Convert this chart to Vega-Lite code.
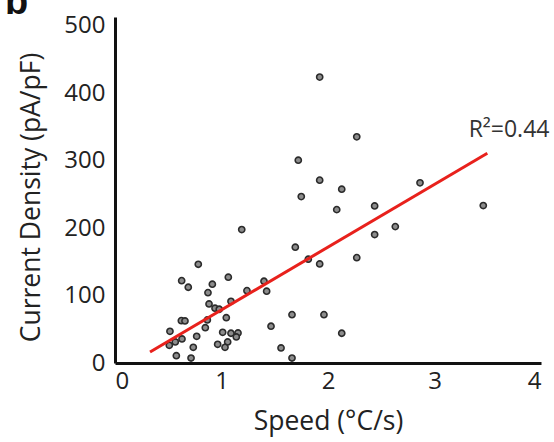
{
  "$schema": "https://vega.github.io/schema/vega-lite/v6.json",
  "autosize": "none",
  "width": 426,
  "height": 346,
  "padding": {"left": 115, "top": 17, "right": 13, "bottom": 79},
  "background": "white",
  "title": {"text": "b", "anchor": "start", "frame": "group", "fontSize": 38, "fontWeight": "bold", "font": "Liberation Sans", "color": "#111", "baseline": "alphabetic", "offset": 0, "dx": -110, "dy": 38},
  "config": {
    "view": {"stroke": null},
    "font": "Open Sans",
    "axis": {"grid": false, "ticks": false, "domainColor": "#111", "domainWidth": 3, "labelFont": "Open Sans", "labelFontSize": 24, "labelColor": "#222", "titleFont": "Open Sans", "titleFontSize": 26.5, "titleFontWeight": "normal", "titleColor": "#222"}
  },
  "datasets": {
    "pts": [
      {"speed": 0.782, "density": 146.4}, {"speed": 0.626, "density": 122.1}, {"speed": 0.688, "density": 112.3},
      {"speed": 1.064, "density": 127.2}, {"speed": 0.914, "density": 116.8}, {"speed": 0.873, "density": 104.3},
      {"speed": 1.239, "density": 107.3}, {"speed": 0.883, "density": 87.5}, {"speed": 0.939, "density": 81.2},
      {"speed": 0.979, "density": 79.7}, {"speed": 1.089, "density": 91.5}, {"speed": 0.623, "density": 62.8},
      {"speed": 0.657, "density": 62.3}, {"speed": 0.867, "density": 63.8}, {"speed": 1.045, "density": 67.2},
      {"speed": 0.516, "density": 47.0}, {"speed": 0.848, "density": 52.4}, {"speed": 1.011, "density": 45.5},
      {"speed": 1.089, "density": 44.1}, {"speed": 1.155, "density": 44.5}, {"speed": 1.139, "density": 38.6},
      {"speed": 0.629, "density": 35.6}, {"speed": 0.767, "density": 39.6}, {"speed": 0.566, "density": 31.2},
      {"speed": 0.510, "density": 26.3}, {"speed": 1.058, "density": 31.2}, {"speed": 0.964, "density": 27.7},
      {"speed": 1.033, "density": 23.3}, {"speed": 0.735, "density": 23.3}, {"speed": 0.576, "density": 10.8},
      {"speed": 0.714, "density": 7.4}, {"speed": 1.721, "density": 300.7}, {"speed": 1.922, "density": 271.1},
      {"speed": 2.129, "density": 257.7}, {"speed": 1.749, "density": 246.7}, {"speed": 2.082, "density": 227.4},
      {"speed": 2.438, "density": 232.9}, {"speed": 1.190, "density": 197.8}, {"speed": 2.438, "density": 190.4},
      {"speed": 1.693, "density": 171.7}, {"speed": 1.815, "density": 153.9}, {"speed": 1.922, "density": 146.9},
      {"speed": 2.270, "density": 156.2}, {"speed": 1.399, "density": 121.2}, {"speed": 1.424, "density": 106.4},
      {"speed": 1.662, "density": 71.7}, {"speed": 1.962, "density": 71.7}, {"speed": 1.465, "density": 54.5},
      {"speed": 2.129, "density": 44.1}, {"speed": 1.559, "density": 22.3}, {"speed": 1.662, "density": 7.4},
      {"speed": 1.922, "density": 423.9}, {"speed": 2.270, "density": 335.3}, {"speed": 2.864, "density": 267.1},
      {"speed": 3.458, "density": 233.4}, {"speed": 2.632, "density": 202.2}
    ],
    "fit": [
      {"speed": 0.329, "density": 16.3},
      {"speed": 3.496, "density": 311.1}
    ],
    "label": [
      {"speed": 3.70, "density": 345, "text": "R²=0.44"}
    ]
  },
  "layer": [
    {
      "data": {"name": "pts"},
      "mark": {"type": "point", "filled": true, "fill": "#8c8c8c", "stroke": "#2b2b2b", "strokeWidth": 1.6, "size": 38, "opacity": 1},
      "encoding": {
        "x": {"field": "speed", "type": "quantitative", "scale": {"domain": [0, 4], "nice": false}, "axis": {"values": [0, 1, 2, 3, 4], "format": "d", "labelPadding": 6, "title": "Speed (°C/s)", "titlePadding": 15}},
        "y": {"field": "density", "type": "quantitative", "scale": {"domain": [0, 513], "nice": false}, "axis": {"values": [0, 100, 200, 300, 400, 500], "format": "d", "labelPadding": 10, "title": "Current Density (pA/pF)", "titlePadding": 18, "titleY": 180}}
      }
    },
    {
      "data": {"name": "fit"},
      "mark": {"type": "line", "color": "#e8211c", "strokeWidth": 3},
      "encoding": {
        "x": {"field": "speed", "type": "quantitative"},
        "y": {"field": "density", "type": "quantitative"}
      }
    },
    {
      "data": {"name": "label"},
      "mark": {"type": "text", "fontSize": 23, "color": "#333", "font": "Open Sans", "align": "center", "baseline": "middle"},
      "encoding": {
        "x": {"field": "speed", "type": "quantitative"},
        "y": {"field": "density", "type": "quantitative"},
        "text": {"field": "text"}
      }
    }
  ]
}
